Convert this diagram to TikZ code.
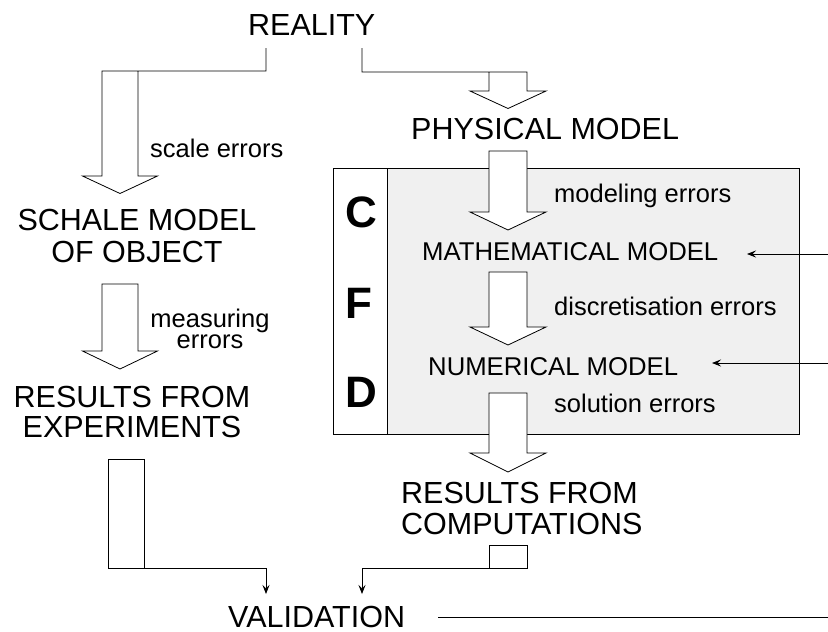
\documentclass[tikz,border=0pt]{standalone}
\usepackage{fontspec}
\setmainfont{Liberation Sans}
\usetikzlibrary{arrows.meta}
\begin{document}
\begin{tikzpicture}[x=1pt,y=-1pt,
  big/.style={font=\fontsize{30.5}{31}\selectfont, inner sep=0pt},
  mid/.style={font=\fontsize{25.7}{26}\selectfont, inner sep=0pt},
  err/.style={font=\fontsize{25.5}{21}\selectfont, inner sep=0pt},
  cfd/.style={font=\fontsize{44}{44}\selectfont\bfseries, inner sep=0pt},
  ln/.style={line width=0.8pt, line join=miter},
  hollow/.style={ln, fill=white},
  thinarrow/.style={ln, -{Stealth[length=9pt,width=7pt,inset=3.5pt]}}
]
\useasboundingbox (0,0) rectangle (828,632);

% CFD box
\fill[black!6] (387,168) rectangle (799,434);
\draw[ln] (333,168) rectangle (799,434);
\draw[ln] (387,168) -- (387,434);
\node[cfd] (C) at (361,212) {C};
\node[cfd] (F) at (359,303) {F};
\node[cfd] (D) at (361,392) {D};

% texts
\node[big, anchor=base west] (reality) at (248,35) {REALITY};
\node[err, anchor=base west] (scaleerr) at (150,157) {scale errors};
\node[big, anchor=base] (schale1) at (137,230) {SCHALE MODEL};
\node[big, anchor=base] (schale2) at (137,262) {OF OBJECT};
\node[err, anchor=north, align=center] (meas) at (210,309) {measuring\\errors};
\node[big, anchor=base] (rexp1) at (132,407) {RESULTS FROM};
\node[big, anchor=base] (rexp2) at (132,437) {EXPERIMENTS};
\node[big, anchor=base west] (phys) at (411,139) {PHYSICAL MODEL};
\node[err, anchor=base west] (moderr) at (554,202) {modeling errors};
\node[mid, anchor=base west] (math) at (422,260) {MATHEMATICAL MODEL};
\node[err, anchor=base west] (diserr) at (554,315) {discretisation errors};
\node[mid, anchor=base west] (num) at (428,375) {NUMERICAL MODEL};
\node[err, anchor=base west] (solerr) at (554,412) {solution errors};
\node[big, anchor=base west] (rcomp1) at (401,503) {RESULTS FROM};
\node[big, anchor=base west] (rcomp2) at (401,534) {COMPUTATIONS};
\node[big, anchor=base west] (valid) at (228,627) {VALIDATION};

% hollow arrows from REALITY
\draw[ln] (266,48) -- (266,71) -- (102,71) -- (102,176) -- (82.5,176) -- (120,193.5)
  -- (157.5,176) -- (138,176) -- (138,71);
\draw[ln] (362,48) -- (362,72) -- (527,72) -- (527,91) -- (546,91) -- (508,108.5)
  -- (470,91) -- (489,91) -- (489,72);

% hollow arrows
\draw[hollow] (102,284) -- (102,351) -- (82.5,351) -- (120,369) -- (157.5,351) -- (138,351) -- (138,284) -- cycle;
\draw[hollow] (489,151) -- (489,212) -- (470,212) -- (508,230) -- (546,212) -- (527,212) -- (527,151) -- cycle;
\draw[hollow] (489,272) -- (489,327) -- (470,327) -- (508,345) -- (546,327) -- (527,327) -- (527,272) -- cycle;
\draw[hollow] (489,393) -- (489,453) -- (470,453) -- (508,472) -- (546,453) -- (527,453) -- (527,393) -- cycle;

% boxes to validation
\draw[ln] (108,568) -- (108,459) -- (144,459) -- (144,568) -- (108,568);
\coordinate (expOut) at (144,568);
\coordinate (vA) at (266,594);
\draw[thinarrow] (expOut) -- (266,568) -- (vA);
\draw[ln] (489,568) -- (489,545) -- (527,545) -- (527,568) -- cycle;
\coordinate (compOut) at (489,568);
\coordinate (vB) at (362,594);
\draw[thinarrow] (compOut) -- (362,568) -- (vB);

% right side connectors
\coordinate (inM) at (828,254);
\coordinate (tipM) at (747,254);
\draw[thinarrow] (inM) -- (tipM);
\coordinate (inN) at (828,363);
\coordinate (tipN) at (712,363);
\draw[thinarrow] (inN) -- (tipN);
\coordinate (vEnd) at (828,617);
\coordinate (vStart) at (438,617);
\draw[ln] (vStart) -- (vEnd);
\end{tikzpicture}
\end{document}
